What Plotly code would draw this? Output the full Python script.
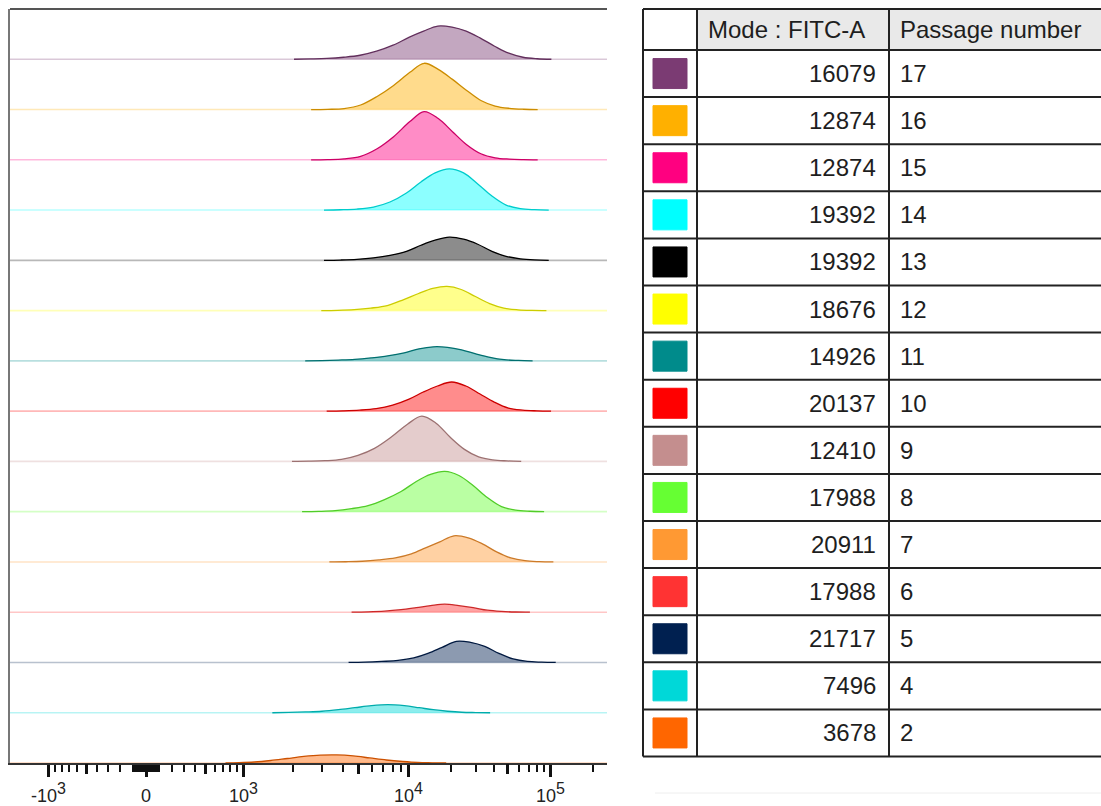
import numpy as np
import plotly.graph_objects as go

# ---------------------------------------------------------------------------
# Data: FITC-A histograms per passage (modal intensity + binned event counts)
# ---------------------------------------------------------------------------
passages = [17, 16, 15, 14, 13, 12, 11, 10, 9, 8, 7, 6, 5, 4, 2]
mode_fitc = [16079, 12874, 12874, 19392, 19392, 18676, 14926, 20137,
             12410, 17988, 20911, 17988, 21717, 7496, 3678]
swatch_colors = ["#7b3b73", "#ffb000", "#ff0080", "#00ffff", "#000000",
                 "#ffff00", "#008b8b", "#ff0000", "#c48e8e", "#66ff33",
                 "#ff9933", "#ff3333", "#002050", "#00d8d8", "#ff6600"]

# bin centres, in decades relative to each sample's mode
bin_offsets = [-0.9, -0.8, -0.7, -0.6, -0.5, -0.4, -0.3, -0.2, -0.1, 0.0,
               0.1, 0.2, 0.3, 0.4, 0.5, 0.6, 0.7, 0.8, 0.9]

counts_p17 = [0, 0.3, 0.8, 2, 4, 8, 14, 22, 28, 33, 32, 28, 21, 13, 6, 2, 0.5, 0, 0]
counts_p16 = [0, 0, 0, 0.2, 1, 4.5, 13, 24, 37, 46, 40, 30, 19, 9, 3.5, 1.2, 0.3, 0, 0]
counts_p15 = [0, 0, 0, 0.2, 1, 3.5, 11, 23, 38, 48, 41, 28, 15, 6, 2, 0.7, 0.2, 0, 0]
counts_p14 = [0, 0, 0.3, 1, 3, 8, 17, 28, 37, 41, 37, 26, 14, 5, 1.5, 0.4, 0, 0, 0]
counts_p13 = [0, 0, 0.3, 1, 2.5, 5, 9, 15, 20, 23, 21, 16, 9, 4, 1.5, 0.4, 0, 0, 0]
counts_p12 = [0, 0, 0.3, 1, 2.5, 5, 11, 17, 22, 24, 21, 14, 7, 2.5, 0.8, 0.2, 0, 0, 0]
counts_p11 = [0, 0, 0.3, 0.8, 1.5, 3, 5, 8, 12, 14, 13.5, 11, 7, 3.5, 1.2, 0.4, 0, 0, 0]
counts_p10 = [0, 0, 0.3, 1, 2.5, 6, 12, 19, 25, 29, 25, 17, 9, 3, 1, 0.3, 0, 0, 0]
counts_p9 = [0, 0, 0.2, 0.7, 2, 6, 13, 24, 37, 45, 38, 24, 12, 4.5, 1.5, 0.5, 0, 0, 0]
counts_p8 = [0, 0.3, 1, 3, 6, 12, 20, 30, 37, 40, 36, 26, 14, 5, 1.5, 0.4, 0, 0, 0]
counts_p7 = [0, 0, 0.2, 0.7, 2, 4, 8, 14, 20, 26, 24, 18, 10, 4, 1.2, 0.3, 0, 0, 0]
counts_p6 = [0, 0, 0, 0, 0.3, 1, 2.5, 4.5, 6.5, 8, 6.5, 4.5, 2, 0.8, 0.2, 0, 0, 0, 0]
counts_p5 = [0, 0, 0, 0.3, 1, 2, 4.5, 9, 15, 21, 20, 16, 9, 3.5, 1, 0.3, 0, 0, 0]
counts_p4 = [0, 0, 0, 0.3, 0.8, 1.5, 3, 5, 7, 8, 7, 5, 3, 1.5, 0.5, 0.2, 0, 0, 0]
counts_p2 = [0, 0, 0, 0.3, 1, 2.5, 4.5, 6.5, 7.8, 8, 7, 5, 3, 1.5, 0.5, 0.2, 0, 0, 0]

counts = [counts_p17, counts_p16, counts_p15, counts_p14, counts_p13,
          counts_p12, counts_p11, counts_p10, counts_p9, counts_p8,
          counts_p7, counts_p6, counts_p5, counts_p4, counts_p2]

major_ticks = [-1000, 0, 1000, 10000, 100000]
major_exps = ["3", None, "3", "4", "5"]
mid_ticks = [-500, 500, 5000, 50000]

# ---------------------------------------------------------------------------
# Biexponential display scale (linear-ish around zero, log above 10^3)
# ---------------------------------------------------------------------------
ZERO_POS = 136.0
LIN_HALF = 97.5
LIN_SHAPE = 2.0
DEC_LOG = [3, 4, 5]
DEC_POS = [97.5, 262.5, 404.5]
TOP_DECADE = DEC_POS[2] - DEC_POS[1]
X_RANGE = [0, 597]
ROW_STEP = 50
Y_RANGE = [0, 750]


def biex(v):
    v = np.asarray(v, dtype=float)
    a = np.abs(v)
    s = np.sign(v)
    inner = LIN_HALF * np.arcsinh(LIN_SHAPE * a / 1000.0) / np.arcsinh(LIN_SHAPE)
    lg = np.log10(np.maximum(a, 1e-9))
    outer = np.interp(lg, DEC_LOG, DEC_POS)
    outer = np.where(lg > DEC_LOG[-1], DEC_POS[-1] + (lg - DEC_LOG[-1]) * TOP_DECADE, outer)
    rel = np.where(a <= 1000, inner, outer)
    return ZERO_POS + s * rel


def rgba(hex_color, alpha):
    h = hex_color.lstrip("#")
    r, g, b = int(h[0:2], 16), int(h[2:4], 16), int(h[4:6], 16)
    return f"rgba({r},{g},{b},{alpha})"


def darker(hex_color, k=0.15):
    h = hex_color.lstrip("#")
    r, g, b = (int(h[i:i + 2], 16) for i in (0, 2, 4))
    return f"rgb({int(r * (1 - k))},{int(g * (1 - k))},{int(b * (1 - k))})"


def tick_label(exp):
    if exp is None:
        return "0"
    return "10<sup><span style='font-size:16px'>" + exp + "</span></sup>"


major_labels = [("-" if t < 0 else "") + tick_label(e) for t, e in zip(major_ticks, major_exps)]

minor_vals = ([-v for v in range(100, 1000, 100)] + [-v for v in range(10, 100, 10)]
              + list(range(10, 100, 10)) + list(range(100, 1000, 100))
              + list(range(2000, 10000, 1000)) + list(range(20000, 100000, 10000))
              + [200000])
minor_vals = [v for v in minor_vals if v not in mid_ticks]

fig = go.Figure()

n_rows = len(passages)
for i in range(n_rows):
    base = (n_rows - 1 - i) * ROW_STEP
    col = swatch_colors[i]
    # baseline across the whole axis
    fig.add_trace(go.Scatter(
        x=X_RANGE, y=[base, base], mode="lines",
        line=dict(color=rgba(col, 0.28), width=1.6),
        hoverinfo="skip", showlegend=False))
    c = np.array(counts[i], dtype=float)
    nz = np.nonzero(c)[0]
    lo, hi = max(nz[0] - 1, 0), min(nz[-1] + 1, len(c) - 1)
    offs = np.array(bin_offsets)[lo:hi + 1]
    xs = biex(mode_fitc[i] * 10 ** offs)
    ys = base + c[lo:hi + 1]
    fig.add_trace(go.Scatter(
        x=xs, y=ys, mode="lines", fill="toself",
        fillcolor=rgba(col, 0.45),
        line=dict(color=darker(col, 0.2), width=1.3, shape="spline", smoothing=1.0),
        name=f"P{passages[i]}", showlegend=False))

# invisible trace so the secondary axis (mid-length ticks) is drawn
fig.add_trace(go.Scatter(x=X_RANGE, y=[0, 0], xaxis="x2", mode="lines",
                         line=dict(width=0), hoverinfo="skip", showlegend=False))

PLOT_W = 1091
PLOT_H = 754
dom_right = (X_RANGE[1] - X_RANGE[0]) / PLOT_W

font_family = "Liberation Sans, Arial, sans-serif"

fig.update_layout(
    width=1101, height=806,
    margin=dict(l=10, r=0, t=9, b=43),
    paper_bgcolor="white", plot_bgcolor="white",
    xaxis=dict(
        domain=[0, dom_right], range=X_RANGE, showgrid=False, zeroline=False,
        showline=True, linecolor="#333", linewidth=2,
        tickmode="array", tickvals=biex(major_ticks).tolist(), ticktext=major_labels,
        ticks="outside", ticklen=12, tickwidth=3, tickcolor="#111",
        ticklabelstandoff=3,
        tickfont=dict(family=font_family, size=18, color="#222"),
        minor=dict(tickmode="array", tickvals=biex(minor_vals).tolist(),
                   ticks="outside", ticklen=7, tickwidth=2, tickcolor="#111",
                   showgrid=False),
    ),
    xaxis2=dict(
        overlaying="x", anchor="y", side="bottom", range=X_RANGE,
        showgrid=False, zeroline=False, showline=False, showticklabels=False,
        tickmode="array", tickvals=biex(mid_ticks).tolist(),
        ticks="outside", ticklen=10, tickwidth=2.5, tickcolor="#111",
    ),
    yaxis=dict(range=Y_RANGE, showgrid=False, zeroline=False, showticklabels=False,
               showline=True, linecolor="#777", linewidth=1.5, ticks=""),
)


# ---------------------------------------------------------------------------
# Frame on top of the histogram panel and the legend table on the right
# ---------------------------------------------------------------------------
def px(xp):
    return (xp - 10) / PLOT_W


def py(yp):
    return 1 - (yp - 9) / PLOT_H


shapes = [dict(type="line", xref="paper", yref="paper", x0=0, x1=dom_right,
               y0=1, y1=1, line=dict(color="#555", width=2))]

T_LEFT, T_C1, T_C2, T_RIGHT = 643, 697, 889, 1110
T_TOP, T_HEAD, ROW_H = 9, 50, 47.1
t_bottom = T_HEAD + ROW_H * n_rows

shapes.append(dict(type="rect", xref="paper", yref="paper",
                   x0=px(T_C1), x1=px(T_RIGHT), y0=py(T_HEAD), y1=py(T_TOP),
                   fillcolor="#e9e9e9", line=dict(width=0), layer="below"))

line_style = dict(color="#222", width=2)
for xv in (T_LEFT, T_C1, T_C2):
    shapes.append(dict(type="line", xref="paper", yref="paper",
                       x0=px(xv), x1=px(xv), y0=py(T_TOP), y1=py(t_bottom), line=line_style))
for k in range(n_rows + 2):
    yv = T_TOP if k == 0 else T_HEAD + ROW_H * (k - 1)
    shapes.append(dict(type="line", xref="paper", yref="paper",
                       x0=px(T_LEFT), x1=px(T_RIGHT), y0=py(yv), y1=py(yv), line=line_style))

table_font = dict(family=font_family, size=24, color="#1e1e1e")
annotations = [
    dict(text="Mode : FITC-A", x=px(706), y=py((T_TOP + T_HEAD) / 2), xref="paper", yref="paper",
         xanchor="left", yanchor="middle", showarrow=False, font=table_font),
    dict(text="Passage number", x=px(898), y=py((T_TOP + T_HEAD) / 2), xref="paper", yref="paper",
         xanchor="left", yanchor="middle", showarrow=False, font=table_font),
]

for i in range(n_rows):
    yc = T_HEAD + ROW_H * (i + 0.5)
    shapes.append(dict(type="rect", xref="paper", yref="paper",
                       x0=px(653), x1=px(687), y0=py(yc + 15), y1=py(yc - 15),
                       fillcolor=swatch_colors[i], line=dict(color=swatch_colors[i], width=1)))
    annotations.append(dict(text=str(mode_fitc[i]), x=px(878), y=py(yc), xref="paper", yref="paper",
                            xanchor="right", yanchor="middle", showarrow=False, font=table_font))
    annotations.append(dict(text=str(passages[i]), x=px(898), y=py(yc), xref="paper", yref="paper",
                            xanchor="left", yanchor="middle", showarrow=False, font=table_font))

shapes.append(dict(type="line", xref="paper", yref="paper", x0=px(655), x1=px(1101),
                   y0=py(793), y1=py(793), line=dict(color="#eeeeee", width=1)))

fig.update_layout(shapes=shapes, annotations=annotations)

fig.write_html("out.html")
